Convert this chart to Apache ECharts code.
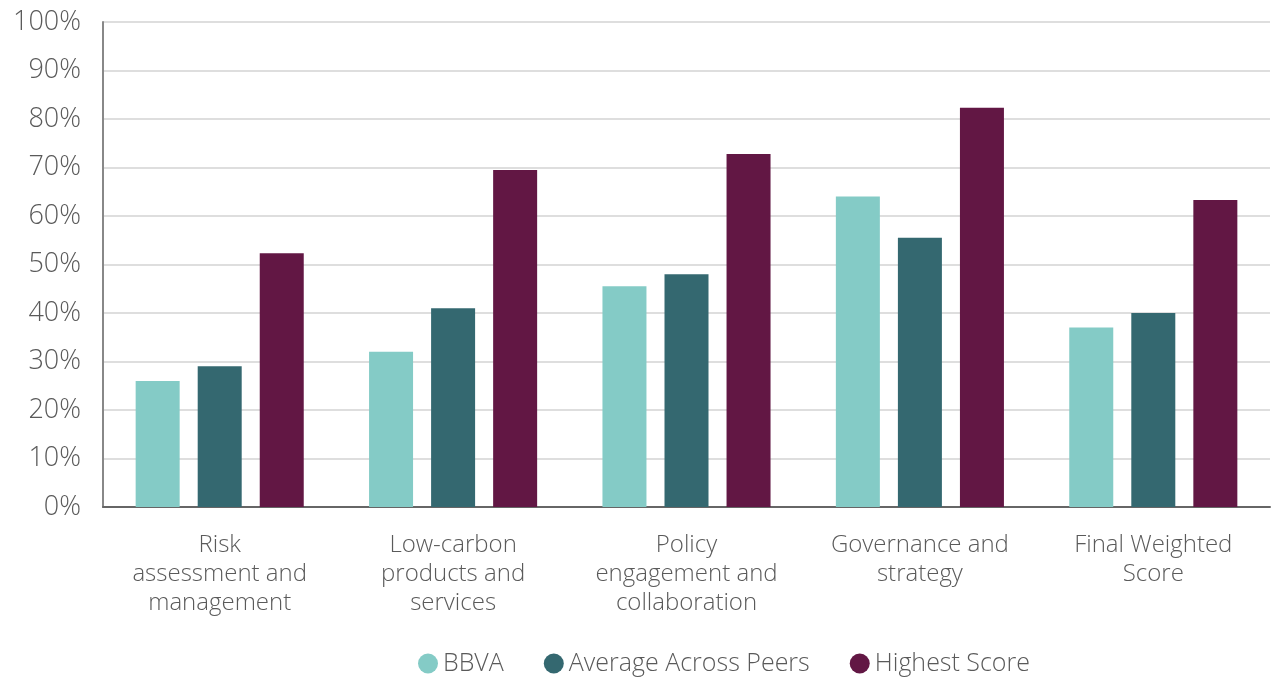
<!DOCTYPE html>
<html>
<head>
<meta charset="utf-8">
<script src="https://cdn.jsdelivr.net/npm/echarts@6/dist/echarts.min.js"></script>
<style>
  html, body { margin: 0; padding: 0; background: #fff; }
  #chart { width: 1272px; height: 680px; }
</style>
</head>
<body>
<div id="chart"></div>
<script>
// data
const categories = [
  'Risk\nassessment and\nmanagement',
  'Low-carbon\nproducts and\nservices',
  'Policy\nengagement and\ncollaboration',
  'Governance and\nstrategy',
  'Final Weighted\nScore'
];
const bbva = [26, 32, 45.5, 64, 37];
const avgPeers = [29, 41, 48, 55.5, 40];
const highest = [52.3, 69.5, 72.8, 82.3, 63.3];

const font = '"Open Sans", Lato, sans-serif';
const textColor = '#5a5a5a';

const chart = echarts.init(document.getElementById('chart'));

const option = {
  animation: false,
  textStyle: { fontFamily: font },
  grid: { left: 103, right: 2, top: 22, bottom: 173 },
  legend: {
    top: 646,
    left: 413,
    icon: 'circle',
    itemWidth: 20,
    itemHeight: 20,
    itemGap: 40,
    textStyle: { fontSize: 25, color: textColor, fontFamily: font, fontWeight: 300 },
    data: ['BBVA', 'Average Across Peers', 'Highest Score']
  },
  xAxis: {
    type: 'category',
    data: categories,
    axisLine: { lineStyle: { color: '#666', width: 2 } },
    axisTick: { show: false },
    axisLabel: {
      fontSize: 24,
      color: textColor,
      lineHeight: 29,
      margin: 24,
      interval: 0,
      fontWeight: 300
    }
  },
  yAxis: {
    type: 'value',
    min: 0,
    max: 100,
    interval: 10,
    axisLine: { show: true, lineStyle: { color: '#888', width: 2 } },
    axisTick: { show: false },
    splitLine: { lineStyle: { color: '#dedede', width: 2 } },
    axisLabel: {
      formatter: '{value}%',
      fontSize: 27,
      color: textColor,
      margin: 22,
      fontWeight: 300
    }
  },
  series: [
    {
      name: 'BBVA', type: 'bar', data: bbva,
      barWidth: 44, barGap: '41%',
      itemStyle: { color: '#84cbc6' }
    },
    {
      name: 'Average Across Peers', type: 'bar', data: avgPeers,
      barWidth: 44, barGap: '41%',
      itemStyle: { color: '#346870' }
    },
    {
      name: 'Highest Score', type: 'bar', data: highest,
      barWidth: 44, barGap: '41%',
      itemStyle: { color: '#621744' }
    }
  ]
};

chart.setOption(option);
</script>
</body>
</html>
